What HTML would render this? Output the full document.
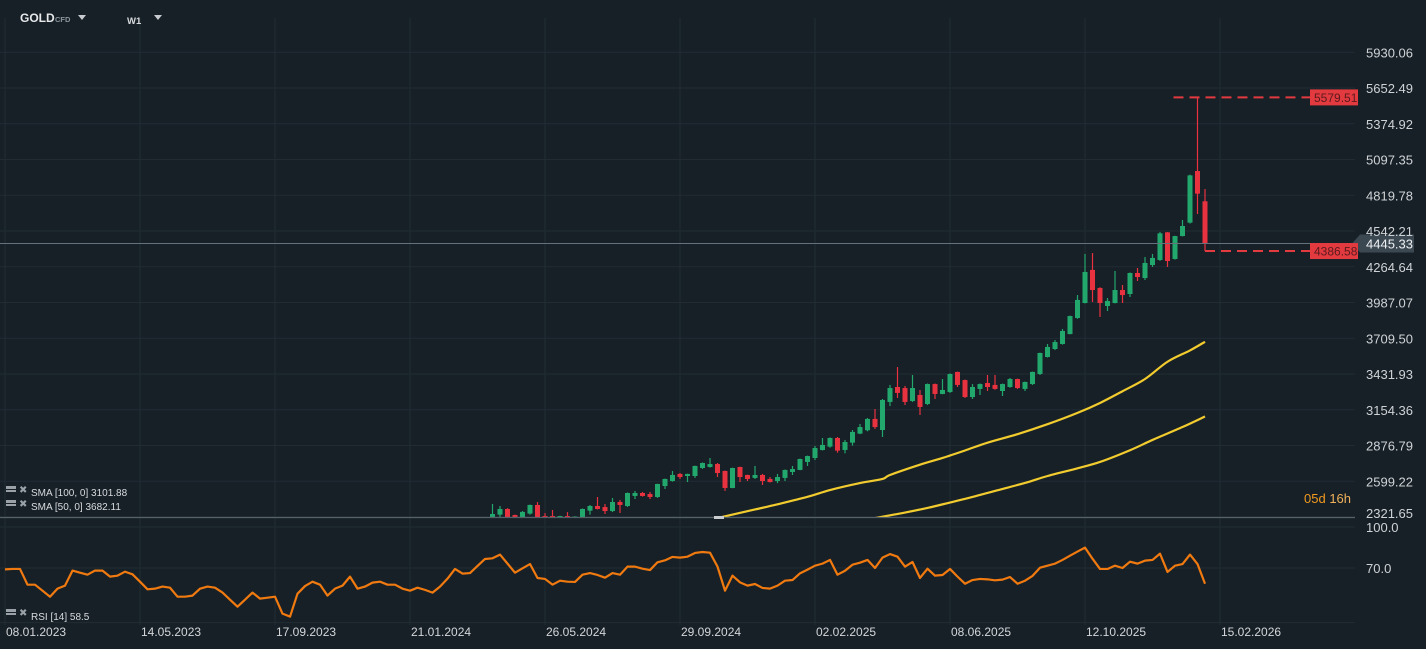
<!DOCTYPE html>
<html><head><meta charset="utf-8"><style>
html,body{margin:0;padding:0;background:#172027;width:1426px;height:649px;overflow:hidden}
svg{display:block;font-family:"Liberation Sans",Arial,sans-serif}
</style></head><body>
<svg id="chart" width="1426" height="649" viewBox="0 0 1426 649">
<defs><clipPath id="mainClip"><rect x="0" y="0" width="1360" height="517"/></clipPath></defs>
<rect x="0" y="0" width="1426" height="649" fill="#172027"/>
<g id="grid"></g>
<g id="candles" clip-path="url(#mainClip)"></g>
<g id="smas" clip-path="url(#mainClip)"></g>
<g id="overlay"></g>
<g id="rsi"></g>
<g id="axes"></g>
<g>
 <text x="20" y="22" fill="#e6e8ea" font-size="12" font-weight="bold">GOLD</text>
 <text x="55" y="22" fill="#8a949c" font-size="7.5" font-weight="bold">CFD</text>
 <path d="M78,15 L86,15 L82,20 Z" fill="#c8ccd0"/>
 <text x="127" y="24" fill="#d6d9dc" font-size="9.5" font-weight="bold">W1</text>
 <path d="M154,15 L162,15 L158,20 Z" fill="#c8ccd0"/>
</g>
<g font-size="10" fill="#d8dbde">
 <g><rect x="6" y="486" width="10" height="3" fill="#9aa2a8"/><rect x="6" y="490" width="10" height="2" fill="#9aa2a8"/><text x="19" y="493" fill="#9aa2a8" font-size="10">✖</text><text x="31" y="496">SMA [100,  0] 3101.88</text></g>
 <g><rect x="6" y="500" width="10" height="3" fill="#9aa2a8"/><rect x="6" y="504" width="10" height="2" fill="#9aa2a8"/><text x="19" y="507" fill="#9aa2a8" font-size="10">✖</text><text x="31" y="510">SMA [50,  0] 3682.11</text></g>
 <g><rect x="6" y="609" width="10" height="3" fill="#9aa2a8"/><rect x="6" y="613" width="10" height="2" fill="#9aa2a8"/><text x="19" y="616" fill="#9aa2a8" font-size="10">✖</text><text x="31" y="620">RSI [14]  58.5</text></g>
</g>
<text x="1304" y="503" fill="#f39a1e" font-size="13">05d <tspan fill="#f0b15a">16h</tspan></text>
</svg>
<script>
const priceTicks=[5930.06,5652.49,5374.92,5097.35,4819.78,4542.21,4264.64,3987.07,3709.50,3431.93,3154.36,2876.79,2599.22,2321.65];
const dateLabels=["08.01.2023","14.05.2023","17.09.2023","21.01.2024","26.05.2024","29.09.2024","02.02.2025","08.06.2025","12.10.2025","15.02.2026"];
const rsiTicks=[100.0,70.0];
const opens=[2300,2340,2384,2337,2310,2348,2415,2329,2329,2318,2329,2318,2310,2371,2407,2399,2368,2438,2407,2485,2508,2500,2477,2562,2601,2656,2640,2640,2702,2710,2733,2679,2547,2710,2648,2625,2648,2617,2601,2625,2671,2687,2749,2780,2842,2868,2935,2842,2899,2969,2995,3083,2997,3215,3331,3323,3222,3269,3199,3354,3277,3292,3448,3385,3253,3316,3362,3347,3300,3331,3393,3316,3354,3432,3564,3626,3665,3742,3867,3983,4240,4100,3960,3983,4084,4053,4216,4177,4278,4317,4532,4325,4503,4607,5008,4773];
const closes=[2345,2384,2305,2310,2361,2415,2310,2318,2318,2329,2318,2325,2384,2407,2384,2368,2438,2415,2508,2508,2485,2477,2578,2617,2648,2632,2656,2718,2741,2733,2663,2547,2702,2632,2617,2648,2601,2593,2632,2687,2694,2772,2795,2857,2881,2935,2837,2904,2982,3020,3083,3020,3230,3323,3285,3215,3323,3176,3354,3277,3308,3432,3347,3253,3331,3354,3331,3316,3354,3393,3323,3370,3448,3595,3642,3680,3766,3882,4007,4224,4084,3983,3999,4084,4045,4216,4185,4294,4333,4524,4309,4503,4581,4974,4832,4445.33];
const highs=[2423,2407,2390,2340,2368,2418,2438,2352,2376,2331,2360,2327,2388,2415,2477,2423,2469,2454,2512,2524,2516,2516,2580,2620,2679,2663,2658,2720,2745,2780,2741,2682,2705,2712,2650,2718,2656,2632,2656,2690,2718,2775,2798,2873,2935,2940,2943,2920,2997,3044,3090,3160,3238,3347,3486,3339,3424,3308,3358,3358,3393,3436,3450,3389,3354,3358,3424,3424,3358,3401,3396,3373,3450,3598,3665,3696,3781,3885,4045,4364,4371,4105,4022,4232,4123,4220,4255,4340,4364,4534,4534,4505,4628,4980,5579.51,4868];
const lows=[2290,2319,2295,2300,2300,2340,2300,2310,2310,2310,2310,2315,2305,2340,2380,2345,2360,2353,2400,2461,2480,2461,2470,2539,2596,2617,2593,2625,2695,2705,2632,2524,2545,2593,2601,2617,2570,2590,2585,2601,2648,2685,2718,2764,2838,2860,2821,2816,2876,2965,2987,3005,2943,3183,3246,3191,3215,3114,3191,3238,3275,3285,3331,3246,3238,3269,3300,3310,3261,3325,3316,3300,3347,3424,3560,3618,3660,3740,3860,3980,3991,3875,3921,3980,3983,4030,4154,4162,4263,4310,4263,4320,4500,4600,4674,4386.58];
const rsiValues=[69.0,69.3,69.3,57.8,57.8,53.4,49.0,54.9,57.1,68.1,66.6,65.1,68.1,68.1,63.7,64.4,67.3,65.4,60.0,54.4,54.9,56.4,55.6,49.0,49.0,49.8,54.9,56.4,55.6,52.0,46.8,41.7,46.8,52.0,47.6,48.3,49.0,36.6,34.4,51.2,56.8,60.0,57.8,49.8,54.9,57.1,63.7,54.9,56.4,59.3,60.0,57.8,57.8,54.9,53.4,55.6,54.0,52.0,56.4,62.2,
69.3,65.9,66.3,71.5,76.6,77.1,79.8,73.2,66.6,69.8,72.9,62.7,62.0,57.8,60.7,60.0,59.8,65.1,66.3,64.9,62.9,66.3,65.1,71.0,71.0,69.5,68.5,74.2,75.6,78.1,77.6,78.3,81.0,81.7,81.2,71.0,53.4,64.4,59.5,57.1,58.3,55.4,54.9,57.1,60.7,61.2,66.1,68.8,71.7,73.2,75.9,
65.1,68.0,72.4,73.9,75.9,70.0,77.6,80.2,78.3,71.0,74.4,62.7,69.5,64.4,64.9,69.3,63.7,58.5,61.2,62.0,61.7,61.0,61.5,63.4,58.5,60.7,64.2,70.2,71.7,73.2,75.9,79.0,82.0,84.9,76.8,69.3,69.3,71.7,70.0,74.6,73.2,75.4,75.9,80.5,67.1,71.7,72.9,79.8,72.9,58.5];
const sma50Index=[25,30,31,35,38,42,45,49,52,53,57,60,63,66,70,74,78,81,84,87,90,93,95];
const sma50Values=[2260,2314,2327,2380,2420,2478,2531,2585,2617,2648,2728,2780,2838,2899,2965,3042,3130,3207,3298,3393,3527,3615,3682.11];
const sma100Index=[48,52,55,58,61,64,67,71,74,78,81,85,88,92,95];
const sma100Values=[2280,2324,2356,2392,2434,2477,2524,2586,2640,2700,2749,2840,2920,3020,3101.88];
const lastPrice=4445.33, highMark=5579.51, lowMark=4386.58;

const NS="http://www.w3.org/2000/svg";
function mk(tag,attrs,parent){const e=document.createElementNS(NS,tag);for(const k in attrs)e.setAttribute(k,attrs[k]);parent.appendChild(e);return e;}
const yP=p=>88+(5652.49-p)/277.57*35.75;
const yR=v=>568+(70-v)*1.367;
const N=rsiValues.length;
const xW=j=>1205-7.5*(N-1-j);
const candleOffset=N-opens.length;
const xC=k=>xW(k+candleOffset);

const grid=document.getElementById('grid'),axes=document.getElementById('axes');
priceTicks.forEach((p,i)=>{
  const y=yP(p);
  const l=mk('line',{x1:0,x2:1355,y1:y,y2:y,stroke:'#212b33','stroke-width':1},grid);
  
  
  const t=mk('text',{x:1366,y:Math.min(y+5,518),fill:'#cfd3d6','font-size':13},axes);
  t.textContent=p.toFixed(2);
  
  
});
dateLabels.forEach((d,i)=>{
  const x=xW(18*i);
  const l=mk('line',{x1:x,x2:x,y1:18,y2:625,stroke:'#212b33','stroke-width':1},grid);
  
  
  const t=mk('text',{x:x+1,y:636,fill:'#d4d7da','font-size':12},axes);
  t.textContent=d;
  
  
});
rsiTicks.forEach(v=>{
  const y=yR(v);
  const l=mk('line',{x1:0,x2:1355,y1:y,y2:y,stroke:'#212b33','stroke-width':1},grid);
  
  
  const t=mk('text',{x:1366,y:y+5,fill:'#cfd3d6','font-size':13},axes);
  t.textContent=v.toFixed(1);
  
  
});
const rl=mk('line',{x1:0,x2:1355,y1:yR(30),y2:yR(30),stroke:'#212b33','stroke-width':1},grid);



const cg=document.getElementById('candles');
opens.forEach((o,k)=>{
  const c=closes[k],up=c>=o,col=up?'#22a86c':'#e8323f',x=xC(k);
  const g=mk('g',{},cg);
  
  
  mk('line',{x1:x,x2:x,y1:yP(highs[k]),y2:yP(lows[k]),stroke:col,'stroke-width':1.2},g);
  const t=yP(Math.max(o,c)),b=yP(Math.min(o,c));
  mk('rect',{x:x-2.5,y:t,width:5,height:Math.max(1.5,b-t),fill:col},g);
});

const sg=document.getElementById('smas');
function smooth(pts){
  let d='M'+pts[0][0]+','+pts[0][1];
  for(let i=0;i<pts.length-1;i++){
    const p0=pts[Math.max(0,i-1)],p1=pts[i],p2=pts[i+1],p3=pts[Math.min(pts.length-1,i+2)];
    const c1=[p1[0]+(p2[0]-p0[0])/6,p1[1]+(p2[1]-p0[1])/6],c2=[p2[0]-(p3[0]-p1[0])/6,p2[1]-(p3[1]-p1[1])/6];
    d+=` C${c1[0]},${c1[1]} ${c2[0]},${c2[1]} ${p2[0]},${p2[1]}`;
  }
  return d;
}
function smaLine(idx,vals,name){
  const pts=idx.map((k,i)=>[xC(k),yP(vals[i])]);
  const pl=mk('path',{d:smooth(pts),fill:'none',stroke:'#f2cc2e','stroke-width':2.2,'stroke-linejoin':'round'},sg);
  
  
}
smaLine(sma50Index,sma50Values,'sma-50-line');
smaLine(sma100Index,sma100Values,'sma-100-line');

const ov=document.getElementById('overlay');
const sep=mk('line',{x1:0,x2:1355,y1:517.5,y2:517.5,stroke:'#56616a','stroke-width':1.2},ov);


const mkr=mk('rect',{x:714,y:516,width:10,height:3,fill:'#c9cdd0'},ov);


const yl=yP(lastPrice);
const pline=mk('line',{x1:0,x2:1355,y1:yl,y2:yl,stroke:'#66727b','stroke-width':1},ov);


const ptag=mk('path',{d:`M1352,${yl} L1360,${yl-9} L1414,${yl-9} L1414,${yl+9} L1360,${yl+9} Z`,fill:'#3b4851'},ov);


const ptxt=mk('text',{x:1366,y:yl+5,fill:'#eef0f2','font-size':13},ov);
ptxt.textContent=lastPrice.toFixed(2);


[[highMark,xC(94)-24,'high-marker'],[lowMark,xC(95),'low-marker']].forEach(([v,x0,n])=>{
  const y=yP(v);
  const g=mk('g',{},ov);
  
  
  mk('line',{x1:x0,x2:1310,y1:y,y2:y,stroke:'#e23a3f','stroke-width':2,'stroke-dasharray':'10,6'},g);
  mk('rect',{x:1310,y:y-8,width:48,height:16,fill:'#e23a3f'},g);
  const t=mk('text',{x:1314,y:y+4.5,fill:'#5c1a1e','font-size':12},g);
  t.textContent=v.toFixed(2);
});

const rg=document.getElementById('rsi');
const rp=mk('polyline',{points:rsiValues.map((v,j)=>xW(j)+','+yR(v)).join(' '),fill:'none',stroke:'#f07a10','stroke-width':2.2,'stroke-linejoin':'round'},rg);


</script>
</body></html>
